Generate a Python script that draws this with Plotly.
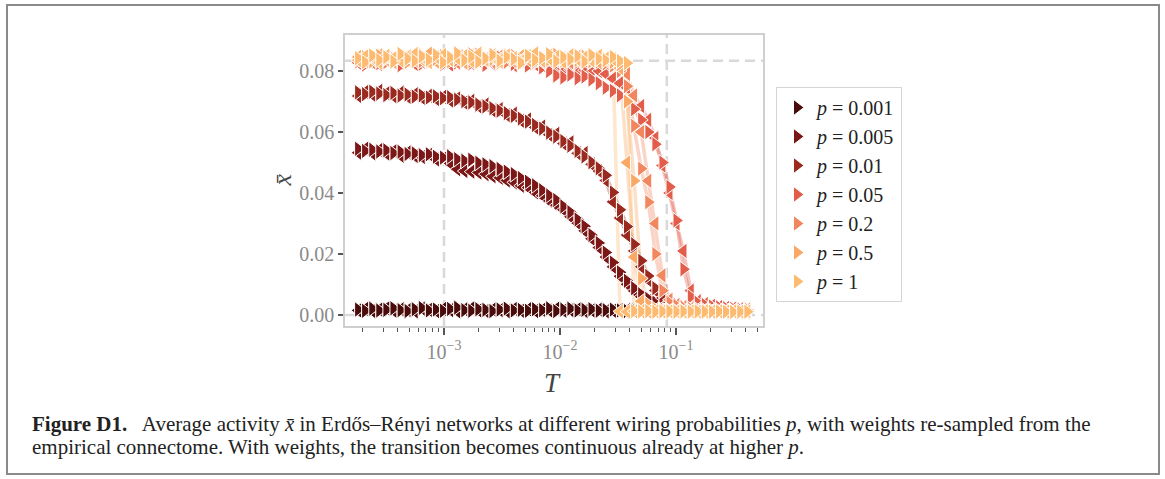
import plotly.graph_objects as go

# ---------------- data ----------------
T = [1.82e-4, 2.09e-4, 2.41e-4, 2.77e-4, 3.19e-4, 3.67e-4, 4.23e-4, 4.86e-4, 5.60e-4, 6.44e-4,
     7.41e-4, 8.53e-4, 9.82e-4, 1.13e-3, 1.30e-3, 1.50e-3, 1.72e-3, 1.98e-3, 2.28e-3, 2.62e-3,
     3.02e-3, 3.48e-3, 4.00e-3, 4.60e-3, 5.30e-3, 6.10e-3, 7.02e-3, 8.07e-3, 9.29e-3, 1.07e-2,
     1.23e-2, 1.42e-2, 1.63e-2, 1.87e-2, 2.16e-2, 2.48e-2, 2.86e-2, 3.29e-2, 3.78e-2, 4.36e-2,
     5.01e-2, 5.77e-2, 6.64e-2, 7.64e-2, 8.79e-2, 1.01e-1, 1.16e-1, 1.34e-1, 1.54e-1, 1.77e-1,
     2.04e-1, 2.35e-1, 2.70e-1, 3.11e-1, 3.58e-1, 4.12e-1]

P_LABELS = ["0.001", "0.005", "0.01", "0.05", "0.2", "0.5", "1"]
P_COLORS = ["#4a0b0b", "#7b1716", "#9a2a1f", "#e35d4b", "#f2875f", "#f9a865", "#fdbb72"]

# realisation A (right-pointing markers)
X_P0001_A = [0.0018,0.0014,0.0021,0.0015,0.0017,0.0022,0.0016,0.0013,0.0019,0.0023,
             0.0015,0.0018,0.0014,0.0020,0.0024,0.0016,0.0014,0.0019,0.0017,0.0013,
             0.0018,0.0021,0.0015,0.0017,0.0014,0.0019,0.0016,0.0022,0.0013,0.0018,
             0.0021,0.0015,0.0017,0.0019,0.0014,0.0016,0.0018,0.0015,0.0013,0.0017,
             0.0014,0.0016,0.0012,0.0015,0.0013,0.0014,0.0012,0.0013,0.0011,0.0012,
             0.0013,0.0011,0.0012,0.0010,0.0011,0.0012]
X_P0001_B = [0.0015,0.0020,0.0013,0.0018,0.0022,0.0014,0.0019,0.0016,0.0012,0.0021,
             0.0017,0.0013,0.0020,0.0016,0.0012,0.0019,0.0022,0.0015,0.0013,0.0018,
             0.0016,0.0012,0.0020,0.0014,0.0019,0.0013,0.0017,0.0015,0.0021,0.0014,
             0.0016,0.0019,0.0013,0.0015,0.0018,0.0012,0.0014,0.0017,0.0016,0.0013,
             0.0015,0.0012,0.0014,0.0013,0.0012,0.0013,0.0011,0.0012,0.0013,0.0011,
             0.0012,0.0011,0.0010,0.0012,0.0011,0.0010]

X_P0005_A = [0.0545,0.0538,0.0542,0.0536,0.0540,0.0531,0.0535,0.0528,0.0530,0.0524,
             0.0527,0.0519,0.0516,0.0520,0.0511,0.0506,0.0509,0.0499,0.0494,0.0488,
             0.0479,0.0470,0.0462,0.0449,0.0437,0.0425,0.0409,0.0392,0.0377,0.0356,
             0.0337,0.0313,0.0291,0.0262,0.0236,0.0205,0.0172,0.0140,0.0112,0.0088,
             0.0068,0.0053,0.0041,0.0032,0.0026,0.0021,0.0018,0.0016,0.0015,0.0014,
             0.0013,0.0014,0.0012,0.0013,0.0012,0.0011]
X_P0005_B = [0.0532,0.0545,0.0530,0.0541,0.0529,0.0537,0.0522,0.0533,0.0521,0.0518,
             0.0525,0.0510,0.0512,0.0497,0.0478,0.0472,0.0470,0.0467,0.0462,0.0455,
             0.0450,0.0441,0.0435,0.0424,0.0418,0.0402,0.0391,0.0374,0.0360,0.0345,
             0.0322,0.0301,0.0276,0.0250,0.0221,0.0190,0.0158,0.0127,0.0101,0.0079,
             0.0060,0.0047,0.0037,0.0029,0.0023,0.0019,0.0017,0.0015,0.0014,0.0013,
             0.0014,0.0012,0.0013,0.0011,0.0012,0.0011]

X_P001_A = [0.0730,0.0724,0.0732,0.0726,0.0721,0.0728,0.0719,0.0723,0.0716,0.0720,
            0.0713,0.0717,0.0711,0.0714,0.0706,0.0701,0.0697,0.0690,0.0684,0.0678,
            0.0670,0.0662,0.0653,0.0644,0.0634,0.0623,0.0611,0.0598,0.0585,0.0570,
            0.0555,0.0538,0.0520,0.0501,0.0481,0.0458,0.0402,0.0345,0.0290,0.0232,
            0.0178,0.0128,0.0088,0.0061,0.0044,0.0034,0.0028,0.0024,0.0021,0.0019,
            0.0017,0.0016,0.0015,0.0014,0.0013,0.0013]
X_P001_B = [0.0718,0.0731,0.0722,0.0735,0.0727,0.0717,0.0729,0.0715,0.0724,0.0712,
            0.0719,0.0708,0.0715,0.0703,0.0710,0.0696,0.0702,0.0684,0.0690,0.0671,
            0.0675,0.0655,0.0660,0.0637,0.0641,0.0615,0.0618,0.0591,0.0594,0.0562,
            0.0566,0.0530,0.0531,0.0494,0.0472,0.0441,0.0371,0.0318,0.0262,0.0210,
            0.0158,0.0115,0.0080,0.0056,0.0040,0.0031,0.0026,0.0022,0.0020,0.0018,
            0.0016,0.0015,0.0014,0.0014,0.0013,0.0012]

X_P005_A = [0.0832,0.0821,0.0838,0.0826,0.0843,0.0829,0.0819,0.0835,0.0840,0.0824,
            0.0831,0.0846,0.0822,0.0836,0.0828,0.0841,0.0825,0.0833,0.0820,0.0837,
            0.0830,0.0844,0.0823,0.0834,0.0818,0.0827,0.0812,
            0.0800,
            0.0785,0.0779,0.0788,0.0776,0.0782,0.0772,
            0.0760,0.0745,0.0735,0.0720,0.0700,0.0675,0.0640,0.0600,0.0560,0.0500,
            0.0420,0.0310,0.0150,0.0060,0.0040,
            0.0033,0.0028,0.0025,0.0022,0.0020,0.0018,0.0017]
X_P005_B = [0.0827,0.0839,0.0830,0.0822,0.0845,0.0834,0.0828,0.0841,0.0823,0.0836,
            0.0847,0.0829,0.0838,0.0821,0.0833,0.0842,0.0826,0.0835,0.0840,0.0824,
            0.0831,0.0837,0.0819,0.0832,0.0826,0.0822,0.0818,0.0815,0.0812,0.0808,
            0.0805,0.0798,0.0802,0.0795,
            0.0800,0.0790,0.0775,0.0760,0.0745,0.0720,0.0685,0.0640,0.0580,0.0490,
            0.0400,0.0300,0.0210,0.0080,0.0045,
            0.0036,0.0030,0.0026,0.0023,0.0021,0.0019,0.0018]

X_P02_A = [0.0831,0.0843,0.0837,0.0848,0.0829,0.0841,0.0852,0.0835,0.0846,0.0833,
           0.0839,0.0850,0.0828,0.0844,0.0836,0.0847,0.0832,0.0853,0.0840,0.0834,
           0.0845,0.0830,0.0849,0.0838,0.0842,0.0827,0.0846,0.0835,0.0851,0.0833,
           0.0840,0.0829,0.0844,0.0836,0.0831,0.0825,0.0818,
           0.0800,0.0750,0.0620,0.0480,0.0370,0.0200,0.0080,0.0040,
           0.0030,0.0024,0.0020,0.0018,0.0016,0.0015,0.0014,0.0013,0.0013,0.0012,0.0012]
X_P02_B = [0.0844,0.0836,0.0828,0.0849,0.0840,0.0833,0.0846,0.0838,0.0853,0.0830,
           0.0842,0.0835,0.0848,0.0839,0.0827,0.0845,0.0851,0.0834,0.0841,0.0829,
           0.0847,0.0837,0.0843,0.0832,0.0850,0.0838,0.0831,0.0845,0.0836,0.0842,
           0.0828,0.0847,0.0833,0.0839,0.0830,0.0826,0.0824,
           0.0820,0.0790,0.0720,0.0600,0.0440,0.0300,0.0130,0.0050,
           0.0033,0.0026,0.0021,0.0018,0.0016,0.0015,0.0014,0.0014,0.0013,0.0012,0.0012]

X_P05_A = [0.0838,0.0845,0.0832,0.0850,0.0841,0.0836,0.0847,0.0829,0.0843,0.0852,
           0.0834,0.0840,0.0849,0.0831,0.0846,0.0837,0.0855,0.0833,0.0844,0.0839,
           0.0828,0.0851,0.0842,0.0835,0.0848,0.0830,0.0845,0.0838,0.0853,0.0834,
           0.0841,0.0836,0.0847,0.0832,0.0843,0.0839,0.0830,0.0822,
           0.0700,0.0440,0.0120,0.0035,
           0.0020,0.0016,0.0015,0.0013,0.0014,0.0012,0.0013,0.0012,0.0011,0.0012,
           0.0011,0.0012,0.0011,0.0011]
X_P05_B = [0.0846,0.0833,0.0841,0.0852,0.0837,0.0829,0.0844,0.0850,0.0835,0.0840,
           0.0857,0.0831,0.0843,0.0838,0.0849,0.0827,0.0846,0.0842,0.0834,0.0851,
           0.0839,0.0845,0.0832,0.0848,0.0836,0.0843,0.0829,0.0850,0.0841,0.0837,
           0.0846,0.0833,0.0844,0.0838,0.0828,0.0835,0.0827,
           0.0810,0.0500,0.0190,0.0045,
           0.0022,0.0017,0.0015,0.0014,0.0013,0.0012,0.0013,0.0012,0.0011,0.0012,
           0.0012,0.0011,0.0012,0.0011,0.0011]

X_P1_A = [0.0842,0.0829,0.0851,0.0836,0.0845,0.0831,0.0856,0.0840,0.0833,0.0848,
          0.0837,0.0852,0.0828,0.0844,0.0858,0.0835,0.0847,0.0830,0.0841,0.0853,
          0.0834,0.0846,0.0839,0.0827,0.0850,0.0836,0.0843,0.0855,0.0832,0.0845,
          0.0838,0.0849,0.0831,0.0852,0.0840,0.0835,0.0846,0.0833,0.0826,
          0.0013,0.0012,0.0013,0.0011,0.0012,0.0012,0.0011,0.0012,0.0011,0.0012,
          0.0011,0.0011,0.0012,0.0011,0.0010,0.0011,0.0011]
X_P1_B = [0.0835,0.0848,0.0839,0.0827,0.0850,0.0842,0.0834,0.0847,0.0856,0.0838,
          0.0829,0.0845,0.0853,0.0836,0.0841,0.0849,0.0832,0.0857,0.0837,0.0844,
          0.0830,0.0851,0.0843,0.0835,0.0848,0.0858,0.0833,0.0840,0.0847,0.0829,
          0.0852,0.0838,0.0845,0.0834,0.0850,0.0841,0.0839,
          0.0012,0.0011,0.0012,0.0013,0.0011,0.0012,0.0011,0.0012,0.0012,0.0011,
          0.0012,0.0011,0.0012,0.0011,0.0012,0.0011,0.0012,0.0011,0.0012]

SERIES_A = [X_P0001_A, X_P0005_A, X_P001_A, X_P005_A, X_P02_A, X_P05_A, X_P1_A]
SERIES_B = [X_P0001_B, X_P0005_B, X_P001_B, X_P005_B, X_P02_B, X_P05_B, X_P1_B]

Y_TICKS = [0.0, 0.02, 0.04, 0.06, 0.08]
Y_TICKTEXT = ["0.00", "0.02", "0.04", "0.06", "0.08"]
X_TICKS = [1e-3, 1e-2, 1e-1]
X_TICKTEXT = ["10<sup>−3</sup>", "10<sup>−2</sup>", "10<sup>−1</sup>"]
X_MINOR = [m * 10.0 ** e for e in (-4, -3, -2, -1) for m in range(2, 10) if m * 10.0 ** e < 0.56]
REF_T = [1e-3, 1 / 12]
REF_X = [0.0, 1 / 12]

for s in SERIES_A + SERIES_B:
    assert len(s) == len(T), len(s)

# ---------------- layout geometry ----------------
W, H = 1165, 479
PL, PR, PT, PB = 345, 763, 35, 326


def px(xp):
    return (xp - PL) / (PR - PL)


def py(yp):
    return (PB - yp) / (PB - PT)


SERIF = "Liberation Serif"
TICK_GRAY = "#8a8a8a"
MSIZE = 14

fig = go.Figure()

# translucent lines first
for col, a, b in zip(P_COLORS, SERIES_A, SERIES_B):
    for vals in (a, b):
        fig.add_trace(go.Scatter(x=T, y=vals, mode="lines",
                                 line=dict(color=col, width=3.5), opacity=0.35,
                                 showlegend=False, hoverinfo="skip"))

# markers
for lab, col, a, b in zip(P_LABELS, P_COLORS, SERIES_A, SERIES_B):
    fig.add_trace(go.Scatter(x=T, y=b, mode="markers",
                             marker=dict(symbol="triangle-left", size=MSIZE, color=col,
                                         line=dict(color="white", width=1)),
                             showlegend=False))
    fig.add_trace(go.Scatter(x=T, y=a, mode="markers", name=f"<i>p</i> = {lab}",
                             marker=dict(symbol="triangle-right", size=MSIZE, color=col,
                                         line=dict(color="white", width=1))))

shapes = []
dash_style = dict(color="#d9d9d9", width=2.5, dash="10px,6px")
for t in REF_T:
    shapes.append(dict(type="line", xref="x", yref="paper", x0=t, x1=t, y0=0, y1=1,
                       line=dash_style, layer="below"))
for v in REF_X:
    shapes.append(dict(type="line", xref="paper", yref="y", x0=0, x1=1, y0=v, y1=v,
                       line=dash_style, layer="below"))
# figure frame
shapes.append(dict(type="rect", xref="paper", yref="paper",
                   x0=px(7), x1=px(1159), y0=py(5), y1=py(474),
                   line=dict(color="#8a8a8a", width=2), fillcolor="rgba(0,0,0,0)", layer="above"))

caption1 = ("<b>Figure D1.</b>   Average activity <i>x̄</i> in Erdős–Rényi networks at different "
            "wiring probabilities <i>p</i>, with weights re-sampled from the")
caption2 = "empirical connectome. With weights, the transition becomes continuous already at higher <i>p</i>."

annotations = [
    dict(text="<i>x̄</i>", x=px(265), y=py(180), xref="paper", yref="paper",
         showarrow=False, textangle=-90, font=dict(family=SERIF, size=26, color="#444")),
    dict(text="<i>T</i>", x=px(552), y=py(366), xref="paper", yref="paper",
         xanchor="center", yanchor="top",
         showarrow=False, font=dict(family=SERIF, size=27, color="#444")),
    dict(text=caption1, x=px(30), y=py(424), xref="paper", yref="paper",
         xanchor="left", yanchor="middle", align="left", showarrow=False,
         font=dict(family=SERIF, size=21, color="#222")),
    dict(text=caption2, x=px(30), y=py(447), xref="paper", yref="paper",
         xanchor="left", yanchor="middle", align="left", showarrow=False,
         font=dict(family=SERIF, size=21, color="#222")),
]

axis_common = dict(showline=True, mirror=True, linecolor="#cfcfcf", linewidth=1.5,
                   showgrid=False, zeroline=False, ticks="outside",
                   tickcolor="#555", tickfont=dict(family=SERIF, size=20, color=TICK_GRAY))

fig.update_layout(
    width=W, height=H,
    margin=dict(l=PL, r=W - PR, t=PT, b=H - PB),
    paper_bgcolor="white", plot_bgcolor="white",
    xaxis=dict(type="log", range=[-3.853, -0.25], tickmode="array",
               tickvals=X_TICKS, ticktext=X_TICKTEXT, ticklen=7, tickwidth=1.5,
               minor=dict(tickmode="array", tickvals=X_MINOR, ticks="outside",
                          ticklen=4, tickwidth=1, tickcolor="#555", showgrid=False),
               **axis_common),
    yaxis=dict(range=[-0.0036, 0.0918], tickmode="array", tickvals=Y_TICKS,
               ticktext=Y_TICKTEXT, ticklen=5, tickwidth=2, **axis_common),
    legend=dict(x=px(776), y=py(87), xanchor="left", yanchor="top",
                bgcolor="white", bordercolor="#d5d5d5", borderwidth=1,
                font=dict(family=SERIF, size=20, color="#222"), itemwidth=30),
    shapes=shapes, annotations=annotations, showlegend=True,
)

fig.write_html("out.html")
